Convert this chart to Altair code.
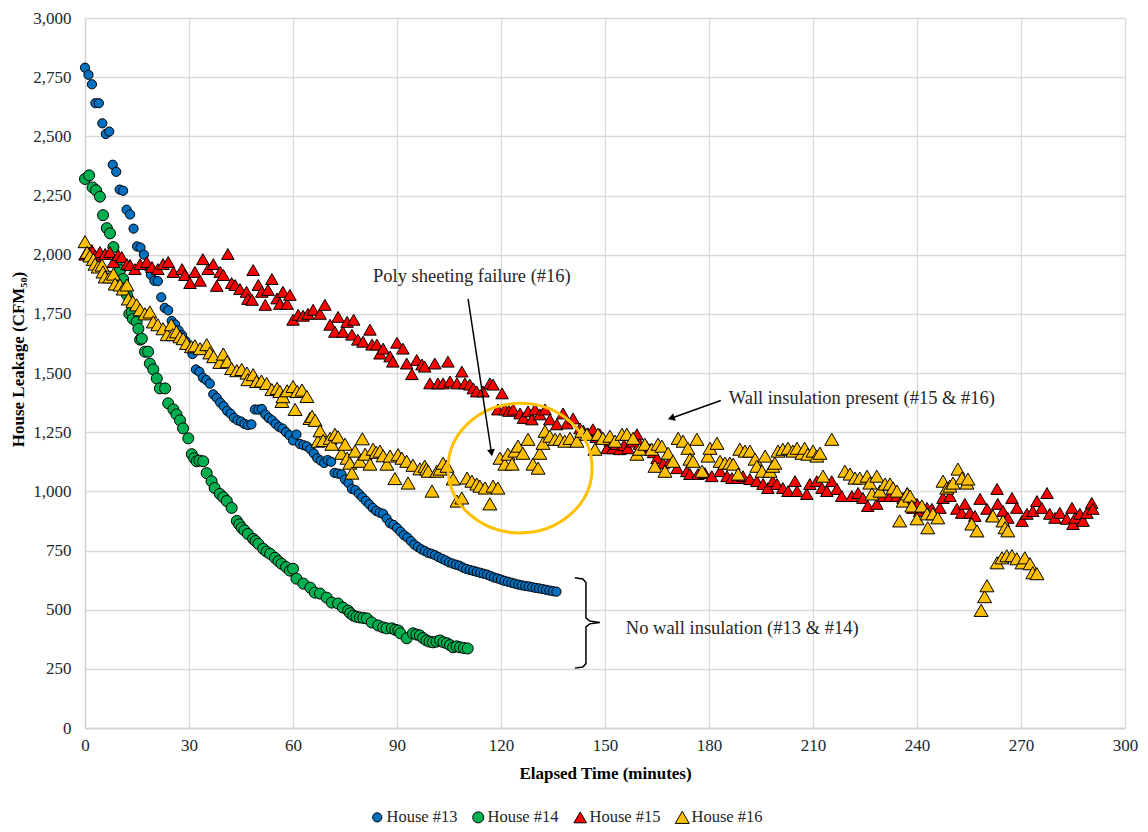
import altair as alt
import pandas as pd

FONT = "Liberation Serif"

houses = ["House #13", "House #14", "House #15", "House #16"]
colors = ["#0070C0", "#00B050", "#FF0000", "#FFC000"]
shapes = ["circle", "circle", "triangle-up", "triangle-up"]
sizes = [85, 195, 160, 160]

# House #13 (one reading per minute)
h13_t = list(range(0, 137))
h13_v = [2790, 2760, 2720, 2640, 2640, 2555, 2510, 2520, 2380, 2350,
         2275, 2270, 2190, 2170, 2110, 2035, 2030, 2000, 1950, 1915,
         1890, 1888, 1820, 1775, 1765, 1720, 1705, 1680, 1660, 1635,
         1610, 1580, 1515, 1505, 1480, 1470, 1455, 1410, 1395, 1375,
         1360, 1340, 1328, 1310, 1300, 1295, 1285, 1280, 1283, 1346,
         1345, 1348, 1325, 1310, 1300, 1285, 1272, 1265, 1250, 1237,
         1215, 1240, 1200, 1195, 1190, 1178, 1160, 1140, 1130, 1120,
         1132, 1125, 1078, 1075, 1072, 1050, 1035, 1010, 1005, 990,
         975, 960, 945, 930, 917, 910, 905, 885, 865, 858,
         845, 830, 815, 805, 790, 775, 765, 755, 748, 740,
         736, 730, 722, 715, 708, 700, 695, 690, 686, 678,
         672, 668, 664, 660, 656, 652, 648, 642, 636, 632,
         627, 622, 618, 614, 610, 606, 603, 600, 598, 595,
         592, 590, 587, 584, 581, 578, 576]

# House #14
h14_t = [0, 1.2, 2.2, 3.2, 4.3, 5.2, 6.3, 7.2, 8.2, 9.2, 10.1, 11, 12.1, 12.8, 13.5,
         13.8, 14.9, 15.4, 15.9, 16.4, 17.3, 18.2, 18.7, 19.7, 20.7, 21.6, 23.1, 24,
         25.5, 26.4, 27.4, 28.3, 29.8, 30.8, 31.5, 32.2, 33, 34.1, 35.1, 36.5, 37.4,
         38.9, 39.9, 40.9, 42.3, 43.8, 44.5, 45.2, 46, 47, 48.5, 49.2, 50, 51.4, 52.4,
         53.4, 54.8, 55.8, 56.7, 58, 59.1, 60, 61, 63, 65, 66.3, 67.8, 69.7, 71.2, 73,
         74.4, 75.9, 76.5, 77.4, 78.3, 79.3, 80.3, 81.3, 82.7, 84.6, 86, 87, 88.5,
         89.5, 90.4, 91, 92.8, 94.6, 95.6, 96.6, 97.5, 98.5, 99.4, 100.4, 101.4,
         102.4, 103.4, 104.4, 105.3, 106.2, 107.2, 108.2, 109.3, 110.4]
h14_v = [2320, 2335, 2284, 2272, 2245, 2167, 2112, 2090, 2032, 1969, 1935, 1897, 1830, 1750, 1758,
         1729, 1716, 1687, 1641, 1645, 1590, 1590, 1540, 1515, 1477, 1435, 1435, 1372,
         1346, 1325, 1300, 1266, 1224, 1157, 1140, 1127, 1130, 1127, 1077, 1043, 1014,
         989, 975, 959, 930, 875, 860, 846, 835, 820, 799, 790, 778, 757, 745,
         736, 719, 705, 694, 680, 665, 673, 631, 610, 593, 572, 568, 551, 530, 526,
         509, 496, 485, 475, 470, 467, 465, 463, 446, 433, 425, 421, 421,
         415, 412, 400, 379, 400, 395, 391, 380, 370, 365, 362, 365,
         370, 362, 358, 350, 341, 345, 341, 338, 336]

# House #15
h15_t = [0, 1, 2, 3, 4.3, 5.8, 7.2, 8.2, 9.6, 10.6, 12.1, 13, 14.4, 15.9, 17.8, 19.3, 21,
         22.5, 24, 25.5, 28, 28.8, 30.3, 31.7, 33.2, 34, 35.5, 37, 38, 39, 39.9, 41.2,
         42.3, 43.3, 44.7, 46.6, 47, 48.2, 48.5, 50, 51, 52, 52.8, 53.9, 55.4, 56.2,
         57.1, 58.3, 59.1, 60, 61.5, 62.9, 64.3, 65.8, 67.8, 69.2, 70.7, 72.1, 73,
         74.4, 75.6, 77, 77.5, 78.7, 80.2, 82.2, 82.8, 84.2, 85.1, 86, 88, 88.8, 90,
         91.7, 92.8, 94.3, 95.7, 97.2, 98, 99.5, 100.9, 101.8, 103.3, 104.7, 105.3,
         107.3, 108.7, 109.6, 111, 112, 113, 114.8, 116.8, 117.7, 119.1, 120.3, 121.1,
         122.3, 123.5, 125.5, 126.5, 127.8, 128.9, 129.8, 131.2, 132.7, 134.1, 136.1,
         137.9, 139, 140.8, 142.8, 143.8, 145.1, 146.5, 147.5, 148.5, 150.6, 151.5,
         152.3, 153.3, 154.3, 155.5, 156.6, 158, 159.2, 160, 161, 162, 163, 164, 165,
         166.8, 168.7, 170.8, 173.6, 174.5, 176.8, 178.8, 180.8, 183.2, 185.2, 186.6,
         188.3, 189.8, 191.8, 193.8, 195.6, 197, 198.4, 199.6, 201.3, 202.8, 204.8,
         205.4, 208.2, 209.1, 211.1, 212.6, 214, 215.4, 216.9, 218.3, 221.2, 223,
         224.4, 225.8, 228.4, 230.2, 232.2, 234.2, 236, 237.2, 238.8, 240, 240.8,
         242.9, 244.3, 246.6, 247.5, 249.5, 251.5, 252.9, 253.8, 255.3, 256.7, 258.2,
         260.2, 261.6, 263.1, 263.3, 264.8, 266.2, 267.4, 268.8, 270.3, 271.7, 273.4,
         274.6, 276, 277.5, 278.3, 279.8, 281.2, 283.2, 284.7, 285, 285.6, 287, 287.9,
         289, 290.4, 290.7]
h15_v = [2000, 2005, 2019, 1995, 2011, 2003, 2011, 1969, 1998, 1990, 1960, 1956, 1939, 1960, 1969, 1948, 1939,
         1960, 1969, 1927, 1939, 1914, 1880, 1927, 1890, 1981, 1939, 1960, 1868, 1927, 1914, 2003,
         1880, 1872, 1855, 1843, 1813, 1809, 1935, 1872, 1843, 1788, 1851, 1897, 1815, 1792,
         1843, 1792, 1830, 1725, 1746, 1742, 1750, 1767, 1750, 1788, 1704, 1674, 1737,
         1674, 1716, 1662, 1725, 1641, 1632, 1683, 1620, 1620, 1582, 1603, 1570, 1548, 1628,
         1603, 1540, 1495, 1555, 1536, 1527, 1456, 1540, 1456, 1456, 1548, 1464,
         1456, 1506, 1456, 1451, 1435, 1422, 1422, 1456, 1451, 1346, 1414, 1346,
         1340, 1346, 1329, 1310, 1338, 1304, 1346, 1325, 1346, 1304, 1283,
         1329, 1287, 1308, 1266, 1255, 1245, 1262, 1230, 1241, 1182, 1215,
         1182, 1200, 1178, 1195, 1182, 1210, 1241, 1200, 1182, 1190, 1178, 1165, 1140,
         1119, 1127, 1098, 1085, 1073, 1073, 1077, 1064, 1085, 1064, 1056,
         1056, 1064, 1052, 1043, 1031, 1014, 1043, 1031, 1014, 1001, 1043,
         1001, 989, 1031, 1043, 1014, 1001, 1043, 1010, 980, 980, 993,
         972, 938, 947, 980, 980, 980, 972, 993, 930, 947, 917,
         930, 926, 930, 972, 980, 926, 909, 947, 909, 896, 968,
         926, 896, 1010, 947, 917, 888, 972, 930, 875, 905, 917,
         959, 930, 993, 905, 888, 909, 884, 930, 862, 888, 905, 875,
         909, 951, 926]

# House #16
h16_t = [0, 0.6, 1.4, 2.4, 2.9, 3.8, 4.9, 5.2, 5.8, 7.2, 8.2, 8.7, 10.1, 11, 12.1, 12.5,
         13.8, 14.9, 15.9, 17.3, 18.7, 19.7, 21, 22.5, 23.7, 24.9, 25.3, 26.4, 27.4,
         28.3, 29.3, 30.7, 31.7, 33.2, 35.1, 36, 37.1, 38.9, 39.9, 41, 42.3, 43.8,
         45.2, 46.7, 47, 48.5, 49.5, 50.9, 52.4, 53.9, 55.4, 56.2, 56.8, 57.1, 58.3,
         60, 60.6, 61.2, 62.6, 64, 64.9, 65.5, 66.4, 67.2, 67.8, 68.7, 70.7, 71.2,
         72.1, 73, 74, 75, 75.6, 76.4, 77, 77.9, 79.3, 80, 80.8, 82.2, 83.1, 84,
         85.1, 86, 87.1, 88, 89.4, 90.3, 91.4, 92.8, 93.2, 94.6, 96.6, 98, 98.5, 99,
         100.1, 101.5, 102.4, 103.3, 104.4, 106.2, 107.3, 108.7, 110.2, 111.6, 113,
         113.9, 115.4, 116.8, 117.7, 119.1, 119.7, 121.1, 122, 123.2, 124, 124.9,
         126.3, 127.8, 129.2, 130.7, 131.2, 132.1, 132.7, 134.1, 135.6, 137, 138.4,
         139.9, 141.9, 143.3, 144.8, 147.1, 148, 149.4, 151.4, 152.9, 154.9, 156.3,
         158.1, 159.2, 160, 161.5, 163.5, 164.4, 165.3, 166.4, 167.3, 168.2, 169.6,
         171.1, 172.5, 173.9, 174.5, 175.4, 176.5, 178, 179.7, 180.3, 182.3, 183.2,
         184.6, 186, 187, 188.4, 188.9, 190.4, 191.8, 193.3, 193.8, 195.3, 196.2,
         197.6, 198.4, 199, 199.9, 201.3, 202.8, 204.2, 205.4, 206.8, 207.6, 208.5,
         210, 211.1, 212, 212.9, 215.4, 219.2, 220.7, 222.1, 223.5, 225.6, 226.4, 227,
         228.4, 229.3, 230.8, 232.2, 233.1, 234.2, 235, 236, 237.2, 238, 238.5, 240,
         241.4, 242.9, 243.1, 244.6, 246, 247.5, 248.6, 249.5, 250.4, 251.8, 253,
         254.4, 254.7, 255.8, 257.3, 258.5, 259.5, 260.2, 261.9, 263.1, 264.5, 264.8,
         265.4, 265.9, 266.2, 267.4, 268.8, 270.3, 271.1, 272.6, 273.4, 274.6]
h16_v = [2055, 2010, 1995, 1980, 1960, 1948, 1956, 1927, 1906, 1906, 1918, 1876, 1872, 1855, 1872, 1813,
         1801, 1788, 1767, 1750, 1758, 1716, 1704, 1687, 1662, 1704, 1662, 1674, 1653,
         1645, 1625, 1611, 1615, 1603, 1620, 1585, 1569, 1545, 1580, 1548, 1519, 1510,
         1515, 1500, 1472, 1493, 1464, 1466, 1456, 1430, 1435, 1422, 1380, 1400, 1425,
         1443, 1346, 1422, 1428, 1401, 1308, 1317, 1300, 1212, 1256, 1215, 1224, 1199,
         1241, 1230, 1161, 1199, 1140, 1119, 1077, 1170, 1127, 1222, 1157, 1115, 1178, 1165,
         1170, 1150, 1115, 1149, 1054, 1155, 1140, 1127, 1035, 1110, 1095, 1106, 1094, 1085,
         1001, 1085, 1094, 1119, 1106, 1052, 959, 972, 1056, 1043, 1031,
         1022, 1014, 947, 1022, 1014, 1140, 1115, 1157, 1115, 1170, 1191,
         1161, 1220, 1115, 1098, 1161, 1203, 1254, 1233, 1220, 1220, 1212,
         1224, 1212, 1254, 1241, 1178, 1241, 1224, 1233, 1212, 1241, 1241,
         1224, 1157, 1178, 1199, 1178, 1106, 1199, 1191, 1085, 1161, 1127,
         1224, 1212, 1182, 1136, 1127, 1220, 1085, 1149, 1182, 1203, 1127,
         1119, 1119, 1115, 1073, 1178, 1170, 1170, 1136, 1106, 1085, 1149,
         1085, 1106, 1119, 1170, 1178, 1182, 1170, 1182, 1161, 1182, 1157,
         1170, 1149, 1161, 1064, 1220, 1085, 1073, 1056, 1056, 1064, 1035, 989,
         1064, 1001, 1031, 1031, 1014, 1001, 875, 959, 989, 980, 938, 884,
         938, 905, 846, 905, 888, 1043, 1014, 1022, 1035, 1094, 1056,
         1035, 1052, 862, 833, 497, 555, 601, 896, 698, 719, 875,
         846, 728, 833, 728, 715, 698, 719, 694, 656, 652]

rows = []
for name, ts, vs in [(houses[0], h13_t, h13_v), (houses[1], h14_t, h14_v),
                     (houses[2], h15_t, h15_v), (houses[3], h16_t, h16_v)]:
    for t, v in zip(ts, vs):
        rows.append({"t": t, "v": v, "house": name})
df = pd.DataFrame(rows)
df["i"] = range(len(df))

xscale = alt.Scale(domain=[0, 300], nice=False, zero=False)
yscale = alt.Scale(domain=[0, 3000], nice=False)

leg = alt.Legend(orient="none", legendX=284, legendY=791, direction="horizontal",
                 title=None, labelFont=FONT, labelFontSize=16.5, labelColor="#262626",
                 symbolStrokeColor="black", symbolStrokeWidth=1, columnPadding=12,
                 labelOffset=1)

axis_common = dict(labelFont=FONT, labelFontSize=17, labelColor="#262626",
                   titleFont=FONT, titleFontSize=17, titleFontWeight="bold", titleColor="black",
                   gridColor="#d9d9d9", gridWidth=1.3, domainColor="#d0d0d0", domainWidth=1.3,
                   ticks=False, labelFlush=False)

points = alt.Chart(df).mark_point(filled=True, stroke="black", strokeWidth=1, opacity=1).encode(
    x=alt.X("t:Q", scale=xscale,
            axis=alt.Axis(values=list(range(0, 301, 30)), title="Elapsed Time (minutes)",
                          labelPadding=9, titleY=45, titleBaseline="middle", **axis_common)),
    y=alt.Y("v:Q", scale=yscale,
            axis=alt.Axis(values=list(range(0, 3001, 250)), format=",d",
                          title="House Leakage (CFM\u2085\u2080)", labelPadding=14,
                          titleX=-67, titleY=341, titleAlign="center", titleBaseline="middle",
                          **axis_common)),
    color=alt.Color("house:N", scale=alt.Scale(domain=houses, range=colors), legend=leg),
    shape=alt.Shape("house:N", scale=alt.Scale(domain=houses, range=shapes), legend=leg),
    size=alt.Size("house:N", scale=alt.Scale(domain=houses, range=sizes), legend=leg),
    order=alt.Order("i:Q"),
)

# annotations
notes = pd.DataFrame({
    "t": [111.6, 185.7, 156.0],
    "v": [1910, 1393, 421],
    "label": ["Poly sheeting failure (#16)", "Wall insulation present (#15 & #16)",
              "No wall insulation (#13 & #14)"],
})
text_c = alt.Chart(notes.iloc[[0]]).mark_text(font=FONT, fontSize=18.5, align="center",
                                             baseline="middle", color="#262626").encode(
    x="t:Q", y="v:Q", text="label:N")
text_l = alt.Chart(notes.iloc[[1, 2]]).mark_text(font=FONT, fontSize=18.5, align="left",
                                                baseline="middle", color="#262626").encode(
    x="t:Q", y="v:Q", text="label:N")

arrows = pd.DataFrame({
    "t": [110.5, 183.4], "v": [1813, 1384],
    "t2": [117.25, 169.1], "v2": [1163, 1309],
    "ang": [171.4, 250.3],
})
arrow_lines = alt.Chart(arrows).mark_rule(color="black", strokeWidth=1.5).encode(
    x="t:Q", y="v:Q", x2="t2:Q", y2="v2:Q")
arrow_heads = alt.Chart(arrows).mark_point(shape="triangle-up", filled=True, color="black",
                                           size=64, opacity=1).encode(
    x="t2:Q", y="v2:Q", angle=alt.Angle("ang:Q", scale=None))

ring = alt.Chart(pd.DataFrame({"t": [125.5], "v": [1098]})).mark_point(
    shape="M-1,0A1,0.9,0,1,1,1,0A1,0.9,0,1,1,-1,0Z", size=20736, filled=False,
    stroke="#FFC000", strokeWidth=3, opacity=1).encode(x="t:Q", y="v:Q")

brace = pd.DataFrame({
    "t": [141.3, 143.6, 144.5, 144.5, 145.6, 148.5, 145.6, 144.5, 144.5, 143.6, 141.3],
    "v": [635, 630, 615, 465, 452, 446, 440, 427, 272, 258, 253],
    "o": list(range(11)),
})
brace_line = alt.Chart(brace).mark_line(color="black", strokeWidth=1.5).encode(
    x="t:Q", y="v:Q", order="o:Q")

chart = alt.layer(points, ring, brace_line, arrow_lines, arrow_heads, text_c, text_l).properties(
    width=1040, height=710,
    autosize=alt.AutoSizeParams(type="none"),
    padding={"left": 77, "top": 10, "right": 15, "bottom": 100},
).configure_view(stroke=None).configure_axis(
    grid=True, labelFont=FONT, titleFont=FONT,
).configure_text(font=FONT).configure_legend(labelFont=FONT)

chart.save("out.html", embed_options={"renderer": "svg", "actions": False})
